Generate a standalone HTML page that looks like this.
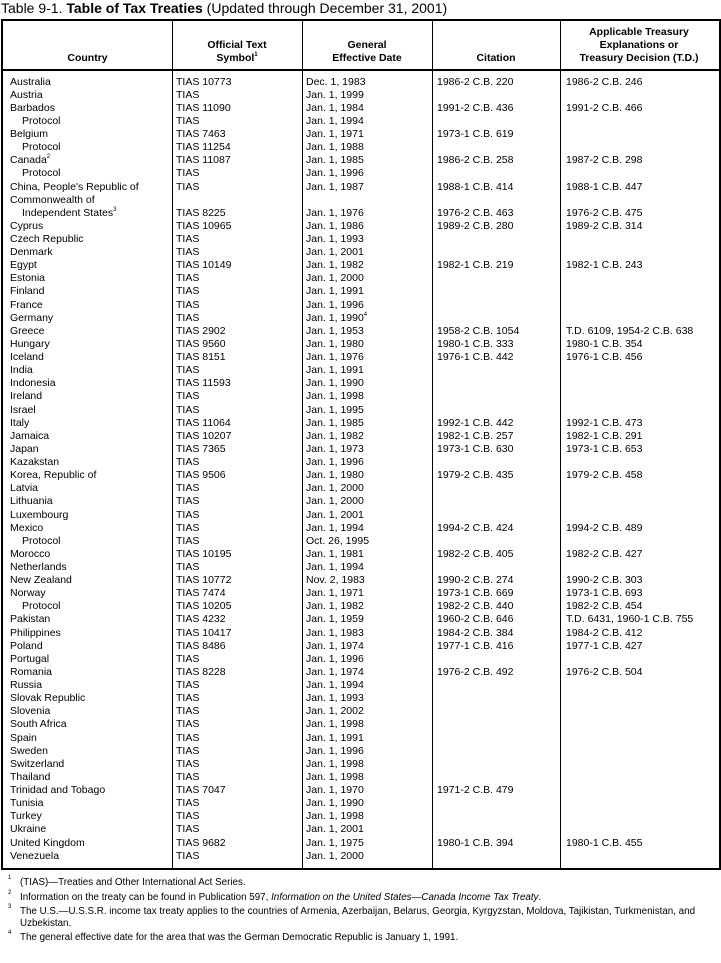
<!DOCTYPE html>
<html><head><meta charset="utf-8"><style>
body{margin:0;width:721px;height:963px;background:#fff;position:relative;font-family:"Liberation Sans",Arial,sans-serif;color:#000;overflow:hidden}
.t{position:absolute;white-space:nowrap}
.box{position:absolute;left:1px;top:19px;width:716px;height:847px;border:2px solid #000}
.v{position:absolute;top:21px;width:1px;height:847px;background:#000}
.h{position:absolute;left:1px;top:69px;width:720px;height:2px;background:#000}
.hd{position:absolute;font-weight:bold;font-size:10.5px;line-height:13px;text-align:center}
.r{position:absolute;font-size:10.5px;line-height:13px;white-space:nowrap}
sup{font-size:6px;vertical-align:top;line-height:6px}
.fn{position:absolute;left:8px;font-size:9.8px;line-height:12px;white-space:nowrap}
.fn sup{position:absolute;left:0;top:-2px}
.fn span{position:absolute;left:12px}
</style></head><body>
<div class="t" style="left:1px;top:0px;font-size:14px">Table 9-1. <b>Table of Tax Treaties</b> (Updated through December 31, 2001)</div>
<div class="box"></div>
<div class="v" style="left:172px"></div>
<div class="v" style="left:302px"></div>
<div class="v" style="left:432px"></div>
<div class="v" style="left:560px"></div>
<div class="h"></div>
<div class="hd" style="left:3px;width:169px;top:52px">Country</div>
<div class="hd" style="left:172px;width:130px;top:39px">Official Text<br>Symbol<sup>1</sup></div>
<div class="hd" style="left:302px;width:130px;top:39px">General<br>Effective Date</div>
<div class="hd" style="left:432px;width:128px;top:52px">Citation</div>
<div class="hd" style="left:560px;width:158px;top:26px">Applicable Treasury<br>Explanations or<br>Treasury Decision (T.D.)</div>
<div id="rows"></div>
<div class="fn" style="top:877px"><sup>1</sup><span>(TIAS)—Treaties and Other International Act Series.</span></div>
<div class="fn" style="top:892px"><sup>2</sup><span>Information on the treaty can be found in Publication 597, <i>Information on the United States—Canada Income Tax Treaty</i>.</span></div>
<div class="fn" style="top:906px"><sup>3</sup><span>The U.S.—U.S.S.R. income tax treaty applies to the countries of Armenia, Azerbaijan, Belarus, Georgia, Kyrgyzstan, Moldova, Tajikistan, Turkmenistan, and<br>Uzbekistan.</span></div>
<div class="fn" style="top:932px"><sup>4</sup><span>The general effective date for the area that was the German Democratic Republic is January 1, 1991.</span></div>
<script>
var d=[
["Australia","TIAS 10773","Dec. 1, 1983","1986-2 C.B. 220","1986-2 C.B. 246"],
["Austria","TIAS","Jan. 1, 1999","",""],
["Barbados","TIAS 11090","Jan. 1, 1984","1991-2 C.B. 436","1991-2 C.B. 466"],
["*Protocol","TIAS","Jan. 1, 1994","",""],
["Belgium","TIAS 7463","Jan. 1, 1971","1973-1 C.B. 619",""],
["*Protocol","TIAS 11254","Jan. 1, 1988","",""],
["Canada<sup>2</sup>","TIAS 11087","Jan. 1, 1985","1986-2 C.B. 258","1987-2 C.B. 298"],
["*Protocol","TIAS","Jan. 1, 1996","",""],
["China, People's Republic of","TIAS","Jan. 1, 1987","1988-1 C.B. 414","1988-1 C.B. 447"],
["Commonwealth of","","","",""],
["*Independent States<sup>3</sup>","TIAS 8225","Jan. 1, 1976","1976-2 C.B. 463","1976-2 C.B. 475"],
["Cyprus","TIAS 10965","Jan. 1, 1986","1989-2 C.B. 280","1989-2 C.B. 314"],
["Czech Republic","TIAS","Jan. 1, 1993","",""],
["Denmark","TIAS","Jan. 1, 2001","",""],
["Egypt","TIAS 10149","Jan. 1, 1982","1982-1 C.B. 219","1982-1 C.B. 243"],
["Estonia","TIAS","Jan. 1, 2000","",""],
["Finland","TIAS","Jan. 1, 1991","",""],
["France","TIAS","Jan. 1, 1996","",""],
["Germany","TIAS","Jan. 1, 1990<sup>4</sup>","",""],
["Greece","TIAS 2902","Jan. 1, 1953","1958-2 C.B. 1054","T.D. 6109, 1954-2 C.B. 638"],
["Hungary","TIAS 9560","Jan. 1, 1980","1980-1 C.B. 333","1980-1 C.B. 354"],
["Iceland","TIAS 8151","Jan. 1, 1976","1976-1 C.B. 442","1976-1 C.B. 456"],
["India","TIAS","Jan. 1, 1991","",""],
["Indonesia","TIAS 11593","Jan. 1, 1990","",""],
["Ireland","TIAS","Jan. 1, 1998","",""],
["Israel","TIAS","Jan. 1, 1995","",""],
["Italy","TIAS 11064","Jan. 1, 1985","1992-1 C.B. 442","1992-1 C.B. 473"],
["Jamaica","TIAS 10207","Jan. 1, 1982","1982-1 C.B. 257","1982-1 C.B. 291"],
["Japan","TIAS 7365","Jan. 1, 1973","1973-1 C.B. 630","1973-1 C.B. 653"],
["Kazakstan","TIAS","Jan. 1, 1996","",""],
["Korea, Republic of","TIAS 9506","Jan. 1, 1980","1979-2 C.B. 435","1979-2 C.B. 458"],
["Latvia","TIAS","Jan. 1, 2000","",""],
["Lithuania","TIAS","Jan. 1, 2000","",""],
["Luxembourg","TIAS","Jan. 1, 2001","",""],
["Mexico","TIAS","Jan. 1, 1994","1994-2 C.B. 424","1994-2 C.B. 489"],
["*Protocol","TIAS","Oct. 26, 1995","",""],
["Morocco","TIAS 10195","Jan. 1, 1981","1982-2 C.B. 405","1982-2 C.B. 427"],
["Netherlands","TIAS","Jan. 1, 1994","",""],
["New Zealand","TIAS 10772","Nov. 2, 1983","1990-2 C.B. 274","1990-2 C.B. 303"],
["Norway","TIAS 7474","Jan. 1, 1971","1973-1 C.B. 669","1973-1 C.B. 693"],
["*Protocol","TIAS 10205","Jan. 1, 1982","1982-2 C.B. 440","1982-2 C.B. 454"],
["Pakistan","TIAS 4232","Jan. 1, 1959","1960-2 C.B. 646","T.D. 6431, 1960-1 C.B. 755"],
["Philippines","TIAS 10417","Jan. 1, 1983","1984-2 C.B. 384","1984-2 C.B. 412"],
["Poland","TIAS 8486","Jan. 1, 1974","1977-1 C.B. 416","1977-1 C.B. 427"],
["Portugal","TIAS","Jan. 1, 1996","",""],
["Romania","TIAS 8228","Jan. 1, 1974","1976-2 C.B. 492","1976-2 C.B. 504"],
["Russia","TIAS","Jan. 1, 1994","",""],
["Slovak Republic","TIAS","Jan. 1, 1993","",""],
["Slovenia","TIAS","Jan. 1, 2002","",""],
["South Africa","TIAS","Jan. 1, 1998","",""],
["Spain","TIAS","Jan. 1, 1991","",""],
["Sweden","TIAS","Jan. 1, 1996","",""],
["Switzerland","TIAS","Jan. 1, 1998","",""],
["Thailand","TIAS","Jan. 1, 1998","",""],
["Trinidad and Tobago","TIAS 7047","Jan. 1, 1970","1971-2 C.B. 479",""],
["Tunisia","TIAS","Jan. 1, 1990","",""],
["Turkey","TIAS","Jan. 1, 1998","",""],
["Ukraine","TIAS","Jan. 1, 2001","",""],
["United Kingdom","TIAS 9682","Jan. 1, 1975","1980-1 C.B. 394","1980-1 C.B. 455"],
["Venezuela","TIAS","Jan. 1, 2000","",""]];
var xs=[10,176,306,437,566],h="";
d.forEach(function(r,i){var top=(75.5+i*13.12).toFixed(1);
r.forEach(function(c,j){if(!c)return;var x=xs[j];if(j==0&&c[0]=="*"){c=c.slice(1);x=22;}
h+='<div class="r" style="left:'+x+'px;top:'+top+'px">'+c+'</div>';});});
document.getElementById("rows").innerHTML=h;
</script>
</body></html>
